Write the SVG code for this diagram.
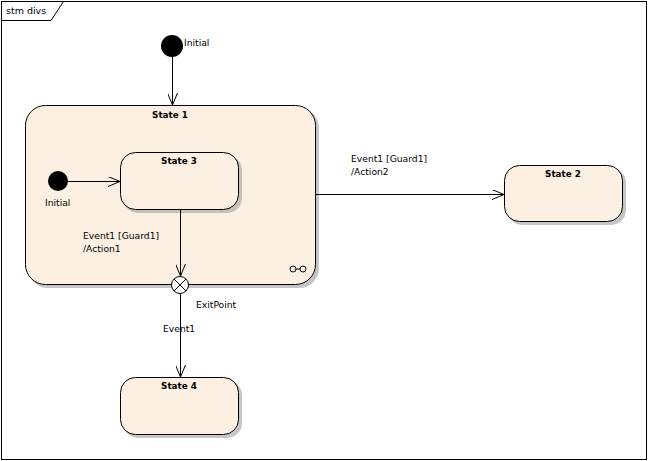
<svg xmlns="http://www.w3.org/2000/svg" width="648" height="461" viewBox="0 0 648 461">
<style>
text{font-family:"DejaVu Sans","Liberation Sans",Arial,sans-serif;font-size:9.2px;fill:#000}
.t{font-weight:bold;font-size:8.8px}
.st{fill:#FCF0E2;stroke:#000;stroke-width:1}
.sh{fill:#A0A0A0;opacity:0.6}
.ln{stroke:#000;stroke-width:1;fill:none}
</style>
<defs>
<marker id="arr" viewBox="0 0 12 10" refX="12" refY="5" markerWidth="12" markerHeight="10" markerUnits="userSpaceOnUse" orient="auto">
<path d="M0,0 L12,5 L0,10" fill="none" stroke="#000" stroke-width="1"/>
</marker>
</defs>
<rect x="0" y="0" width="648" height="461" fill="#fff"/>
<g id="frame">
<rect x="1.5" y="1.5" width="645" height="458" fill="none" stroke="#000"/>
<path d="M1.5,20.5 H51 L63.5,1.5" fill="none" stroke="#000"/>
<text x="6" y="14" style="font-size:9.5px">stm divs</text>
</g>
<g id="state1">
<rect class="sh" x="28" y="108" width="291" height="180" rx="20"/>
<rect class="st" x="25.5" y="105.5" width="290" height="179" rx="20"/>
<text class="t" x="170" y="118" text-anchor="middle">State 1</text>
<g class="ln">
<circle cx="293" cy="269" r="3"/>
<circle cx="303" cy="269" r="3"/>
<line x1="296" y1="269" x2="300" y2="269"/>
</g>
</g>
<g id="state3">
<rect class="sh" x="123" y="155" width="119" height="58" rx="15"/>
<rect class="st" x="120.5" y="152.5" width="118" height="57" rx="15"/>
<text class="t" x="179" y="164" text-anchor="middle">State 3</text>
</g>
<g id="state2">
<rect class="sh" x="507" y="168" width="119" height="57" rx="15"/>
<rect class="st" x="504.5" y="165.5" width="118" height="56" rx="15"/>
<text class="t" x="563" y="177" text-anchor="middle">State 2</text>
</g>
<g id="state4">
<rect class="sh" x="123" y="380" width="119" height="58" rx="15"/>
<rect class="st" x="120.5" y="377.5" width="118" height="57" rx="15"/>
<text class="t" x="179" y="389" text-anchor="middle">State 4</text>
</g>
<g id="initial1">
<circle cx="172" cy="46" r="11" fill="#000"/>
<text x="184" y="46">Initial</text>
</g>
<g id="initial2">
<circle cx="58" cy="181" r="10" fill="#000"/>
<text x="45" y="206">Initial</text>
</g>
<g id="exitpoint">
<circle cx="180" cy="285" r="8.5" fill="#fff" stroke="#000"/>
<path d="M174,279 L186,291 M186,279 L174,291" stroke="#000" fill="none"/>
<text x="196" y="308">ExitPoint</text>
</g>
<g id="connectors">
<line class="ln" x1="172.5" y1="57" x2="172.5" y2="105" marker-end="url(#arr)"/>
<line class="ln" x1="68" y1="181.5" x2="120" y2="181.5" marker-end="url(#arr)"/>
<line class="ln" x1="180.5" y1="210" x2="180.5" y2="276" marker-end="url(#arr)"/>
<line class="ln" x1="316" y1="194.5" x2="504" y2="194.5" marker-end="url(#arr)"/>
<line class="ln" x1="180.5" y1="294" x2="180.5" y2="377" marker-end="url(#arr)"/>
<text x="83" y="239">Event1 [Guard1]</text>
<text x="83" y="252">/Action1</text>
<text x="351" y="162">Event1 [Guard1]</text>
<text x="351" y="175">/Action2</text>
<text x="163" y="332">Event1</text>
</g>
</svg>
